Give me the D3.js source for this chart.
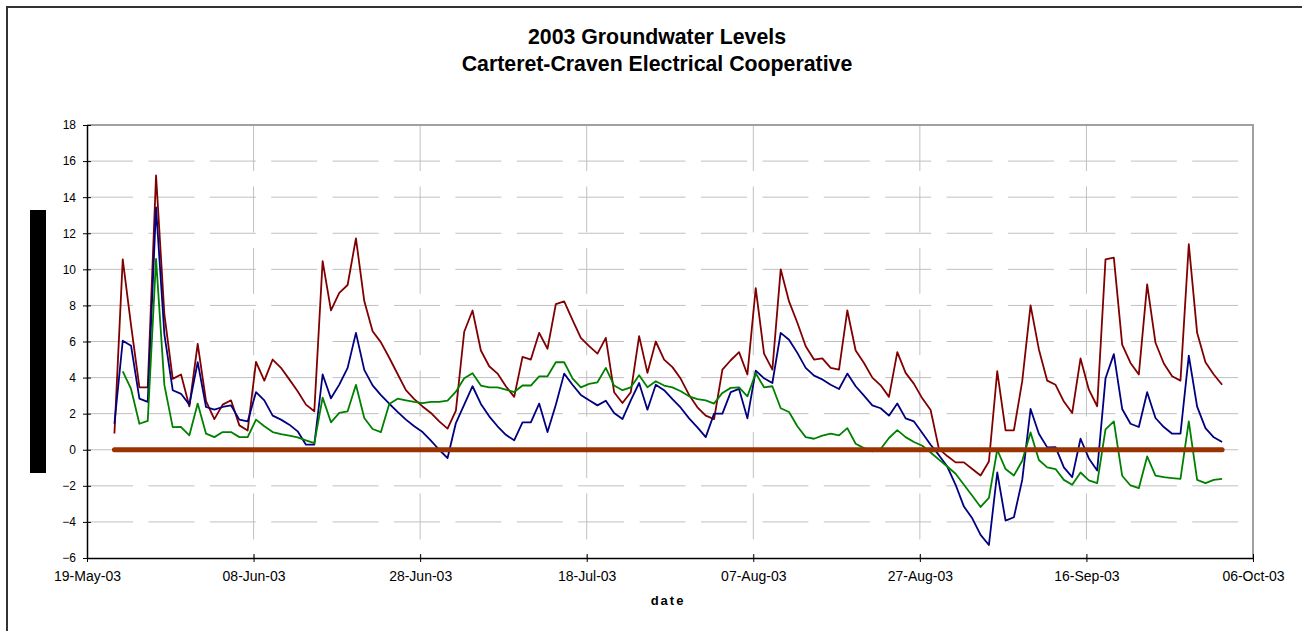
<!DOCTYPE html>
<html>
<head>
<meta charset="utf-8">
<script src="https://cdn.jsdelivr.net/npm/d3@7"></script>
<style>
  body { margin: 0; background: #fff; }
  text { font-family: Arial, "Liberation Sans", sans-serif; }
</style>
</head>
<body>
<script>
// data: daily readings, 22-May-03 .. 02-Oct-03
var firstDay = "2003-05-22";
var lastDay = "2003-10-02";

var seriesRed = [0.9, 10.55, 6.9, 3.46, 3.46, 15.2, 7.5, 3.93, 4.17, 2.4,
  5.87, 2.7, 1.7, 2.5, 2.74, 1.35, 1.07, 4.87, 3.83, 5.0,
  4.54, 3.9, 3.24, 2.5, 2.13, 10.46, 7.72, 8.7, 9.13, 11.72,
  8.24, 6.57, 5.95, 5.1, 4.2, 3.3, 2.81, 2.4, 2.04, 1.57,
  1.17, 2.17, 6.54, 7.72, 5.5, 4.63, 4.22, 3.52, 2.93, 5.15,
  5.0, 6.48, 5.6, 8.07, 8.22, 7.2, 6.2, 5.74, 5.33, 6.2,
  3.19, 2.59, 3.19, 6.3, 4.26, 6.0, 5.0, 4.58, 3.93, 3.04,
  2.35, 1.89, 1.7, 4.44, 4.96, 5.41, 4.17, 8.96, 5.33, 4.44,
  10.0, 8.22, 7.04, 5.74, 5.0, 5.06, 4.54, 4.44, 7.72, 5.5,
  4.81, 4.0, 3.57, 2.93, 5.41, 4.26, 3.65, 2.85, 2.2, 0.05,
  -0.35, -0.7, -0.7, -1.07, -1.43, -0.65, 4.35, 1.07, 1.07, 3.8,
  8.0, 5.56, 3.83, 3.6, 2.67, 2.04, 5.06, 3.33, 2.41, 10.55,
  10.65, 5.83, 4.81, 4.17, 9.17, 5.93, 4.78, 4.07, 3.83, 11.39,
  6.48, 4.85, 4.17, 3.6];

var seriesBlue = [1.44, 6.04, 5.76, 2.83, 2.65, 13.43, 6.4, 3.3, 3.1, 2.5,
  4.86, 2.37, 2.22, 2.37, 2.46, 1.67, 1.57, 3.19, 2.74, 1.89,
  1.67, 1.39, 1.02, 0.28, 0.28, 4.17, 2.85, 3.61, 4.54, 6.48,
  4.43, 3.57, 3.03, 2.55, 2.1, 1.67, 1.3, 0.98, 0.5, 0.0,
  -0.46, 1.48, 2.5, 3.52, 2.54, 1.85, 1.3, 0.83, 0.52, 1.52,
  1.52, 2.56, 0.98, 2.5, 4.22, 3.6, 3.04, 2.74, 2.46, 2.72,
  2.04, 1.7, 2.74, 3.7, 2.22, 3.6, 3.3, 2.8, 2.33, 1.74,
  1.24, 0.7, 2.0, 2.0, 3.19, 3.37, 1.74, 4.39, 3.96, 3.7,
  6.48, 6.1, 5.37, 4.54, 4.11, 3.9, 3.6, 3.37, 4.22, 3.52,
  3.0, 2.46, 2.3, 1.89, 2.56, 1.74, 1.57, 0.93, 0.28, -0.3,
  -0.93, -1.94, -3.15, -3.8, -4.72, -5.28, -1.26, -3.93, -3.74, -1.67,
  2.26, 0.89, 0.13, 0.15, -0.98, -1.52, 0.61, -0.48, -1.15, 3.96,
  5.3, 2.26, 1.44, 1.26, 3.19, 1.76, 1.26, 0.89, 0.89, 5.22,
  2.39, 1.2, 0.69, 0.43];

var seriesGreen = [null, 4.35, 3.37, 1.44, 1.6, 10.58, 3.58, 1.25, 1.26, 0.8,
  2.56, 0.89, 0.7, 0.98, 0.98, 0.7, 0.7, 1.67, 1.3, 0.98,
  0.87, 0.78, 0.69, 0.52, 0.37, 2.89, 1.52, 2.04, 2.13, 3.6,
  1.76, 1.15, 0.98, 2.53, 2.83, 2.74, 2.65, 2.59, 2.65, 2.65,
  2.72, 3.22, 3.96, 4.24, 3.56, 3.46, 3.46, 3.33, 3.2, 3.56,
  3.56, 4.07, 4.07, 4.85, 4.85, 3.96, 3.46, 3.65, 3.74, 4.54,
  3.56, 3.3, 3.46, 4.13, 3.46, 3.8, 3.56, 3.46, 3.24, 2.96,
  2.81, 2.74, 2.56, 3.15, 3.43, 3.46, 2.96, 4.24, 3.46, 3.52,
  2.3, 2.09, 1.3, 0.7, 0.61, 0.78, 0.89, 0.8, 1.2, 0.33,
  0.09, -0.09, 0.04, 0.65, 1.09, 0.7, 0.43, 0.22, -0.15, -0.55,
  -0.93, -1.33, -1.94, -2.55, -3.17, -2.67, 0.0, -1.07, -1.43, -0.61,
  0.96, -0.57, -0.98, -1.07, -1.67, -1.94, -1.26, -1.7, -1.85, 1.13,
  1.57, -1.44, -1.98, -2.13, -0.37, -1.43, -1.52, -1.57, -1.61, 1.57,
  -1.67, -1.85, -1.67, -1.61];

var yTicks = [-6, -4, -2, 0, 2, 4, 6, 8, 10, 12, 14, 16, 18];
var xTickDates = ["2003-05-19", "2003-06-08", "2003-06-28", "2003-07-18",
  "2003-08-07", "2003-08-27", "2003-09-16", "2003-10-06"];

var parse = d3.timeParse("%Y-%m-%d");
var fmt = d3.timeFormat("%d-%b-%y");

// readings are taken in the morning, so shift each day by 7 hours
var days = d3.timeDay.range(parse(firstDay), d3.timeDay.offset(parse(lastDay), 1))
  .map(function(d) { return d3.timeHour.offset(d, 7); });
var xTicks = xTickDates.map(parse);

var svg = d3.select("body").append("svg")
  .attr("width", 1302)
  .attr("height", 631);

// 外框
svg.append("rect")
  .attr("x", 7).attr("y", 7)
  .attr("width", 1310).attr("height", 640)
  .attr("fill", "#fff")
  .attr("stroke", "#333")
  .attr("stroke-width", 2);

var plotLeft = 87, plotRight = 1253, plotTop = 125, plotBottom = 558;

var x = d3.scaleTime()
  .domain([xTicks[0], xTicks[xTicks.length - 1]])
  .range([plotLeft, plotRight]);
var y = d3.scaleLinear()
  .domain([-6, 18])
  .range([plotBottom, plotTop]);

// 标题
svg.append("text")
  .attr("x", 657).attr("y", 44)
  .attr("text-anchor", "middle")
  .attr("font-size", 21.3).attr("font-weight", "bold")
  .text("2003 Groundwater Levels");
svg.append("text")
  .attr("x", 657).attr("y", 71)
  .attr("text-anchor", "middle")
  .attr("font-size", 21.3).attr("font-weight", "bold")
  .text("Carteret-Craven Electrical Cooperative");

// y 轴标题框
svg.append("rect")
  .attr("x", 30).attr("y", 210)
  .attr("width", 16).attr("height", 263)
  .attr("fill", "#000");

// 网格
svg.append("g").selectAll("line")
  .data(yTicks.slice(1, -1))
  .join("line")
  .attr("x1", plotLeft).attr("x2", plotRight)
  .attr("y1", function(d) { return y(d); })
  .attr("y2", function(d) { return y(d); })
  .attr("stroke", "#c0c0c0")
  .attr("stroke-dasharray", "46,15.4");
svg.append("g").selectAll("line")
  .data(xTicks.slice(1, -1))
  .join("line")
  .attr("x1", function(d) { return x(d); })
  .attr("x2", function(d) { return x(d); })
  .attr("y1", plotTop).attr("y2", plotBottom)
  .attr("stroke", "#c0c0c0")
  .attr("stroke-dasharray", "46,15.4");

// 绘图区边框
svg.append("path")
  .attr("d", "M" + plotLeft + "," + plotTop + "H" + plotRight + "V" + plotBottom)
  .attr("fill", "none")
  .attr("stroke", "#a0a0a0")
  .attr("stroke-width", 2);

// 坐标轴
var yAxis = svg.append("g")
  .attr("transform", "translate(" + plotLeft + ",0)")
  .call(d3.axisLeft(y).tickValues(yTicks).tickSize(4).tickPadding(7).tickSizeOuter(0));
yAxis.selectAll(".tick line").attr("x2", -4).attr("x1", 4);
yAxis.selectAll("text").attr("font-size", 12).attr("font-family", "Arial, 'Liberation Sans', sans-serif");

var xAxis = svg.append("g")
  .attr("transform", "translate(0," + plotBottom + ")")
  .call(d3.axisBottom(x).tickValues(xTicks).tickFormat(fmt).tickSize(4).tickPadding(9).tickSizeOuter(0));
xAxis.selectAll(".tick line").attr("y1", -4);
xAxis.selectAll("text").attr("font-size", 14).attr("font-family", "Arial, 'Liberation Sans', sans-serif");
svg.selectAll(".domain").attr("stroke", "#000").attr("stroke-width", 1.5);

svg.append("text")
  .attr("x", 668).attr("y", 605)
  .attr("text-anchor", "middle")
  .attr("font-size", 13).attr("font-weight", "bold")
  .attr("letter-spacing", 2)
  .text("date");

// 折线
var line = d3.line()
  .defined(function(d) { return d[1] !== null; })
  .x(function(d) { return x(d[0]); })
  .y(function(d) { return y(d[1]); });

[[seriesRed, "#800000"], [seriesBlue, "#000080"], [seriesGreen, "#008000"]].forEach(function(s) {
  svg.append("path")
    .datum(days.map(function(d, i) { return [d, s[0][i]]; }))
    .attr("fill", "none")
    .attr("stroke", s[1])
    .attr("stroke-width", 1.8)
    .attr("stroke-linejoin", "round")
    .attr("d", line);
});

// 零线
svg.append("path")
  .datum(days.map(function(d) { return [d, 0]; }))
  .attr("fill", "none")
  .attr("stroke", "#993300")
  .attr("stroke-width", 5)
  .attr("stroke-linecap", "round")
  .attr("d", line);
</script>
</body>
</html>
